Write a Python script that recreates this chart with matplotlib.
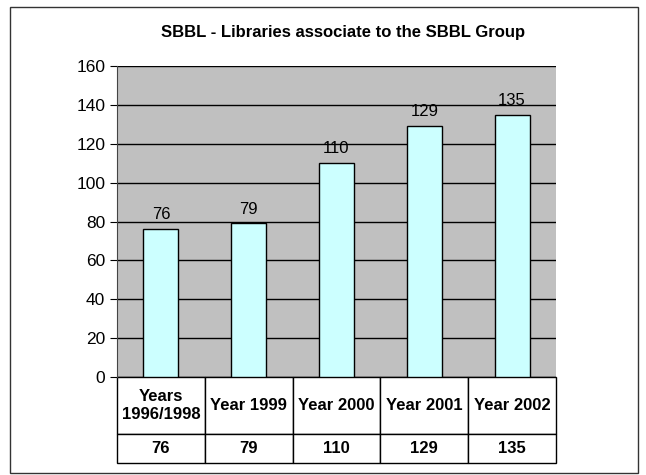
import matplotlib.pyplot as plt
from matplotlib.patches import Rectangle

labels = ["Years\n1996/1998", "Year 1999", "Year 2000", "Year 2001", "Year 2002"]
values = [76, 79, 110, 129, 135]

plt.rcParams['font.family'] = ['Liberation Sans', 'DejaVu Sans']

fig = plt.figure(figsize=(6.46, 4.75), dpi=100)
ax = fig.add_axes([117/646, 1-377/475, (556-117)/646, 311/475])

x = range(len(values))
ax.set_facecolor('#c0c0c0')
ax.set_axisbelow(True)
ax.yaxis.grid(True, color='black', linewidth=1)
ax.bar(x, values, width=0.4, color='#ccffff', edgecolor='black', linewidth=1)
for i, v in zip(x, values):
    ax.text(i, v + 3.5, str(v), ha='center', va='bottom', fontsize=12)

ax.set_xlim(-0.5, len(values) - 0.5)
ax.set_ylim(0, 160)
ax.set_yticks(range(0, 161, 20))
ax.tick_params(axis='y', labelsize=12.5, length=5, direction='out')
ax.set_xticks([])
for s in ['top', 'right']:
    ax.spines[s].set_visible(False)
ax.spines['left'].set_color('#444444')
ax.spines['bottom'].set_visible(False)

tbl = ax.table(cellText=[[str(v) for v in values]], colLabels=labels,
               cellLoc='center', bbox=[0, -86/311, 1, 86/311])
tbl.auto_set_font_size(False)
for (r, c), cell in tbl.get_celld().items():
    cell.set_linewidth(1)
    cell.set_edgecolor('black')
    cell.get_text().set_fontweight('bold')
    cell.get_text().set_fontsize(12)
    if r == 0:
        cell.set_height(57/311)
    else:
        cell.set_height(29/311)

fig.text(0.5 * (117 + 556) / 646 + 0.01, 1 - 32/475,
         "SBBL - Libraries associate to the SBBL Group",
         ha='center', va='center', fontsize=12, fontweight='bold')

fig.patches.append(Rectangle((10/646, 1-473/475), 628/646, 466/475,
                             transform=fig.transFigure, fill=False,
                             edgecolor='#333333', linewidth=1))

fig.savefig('out.png', dpi=100)
